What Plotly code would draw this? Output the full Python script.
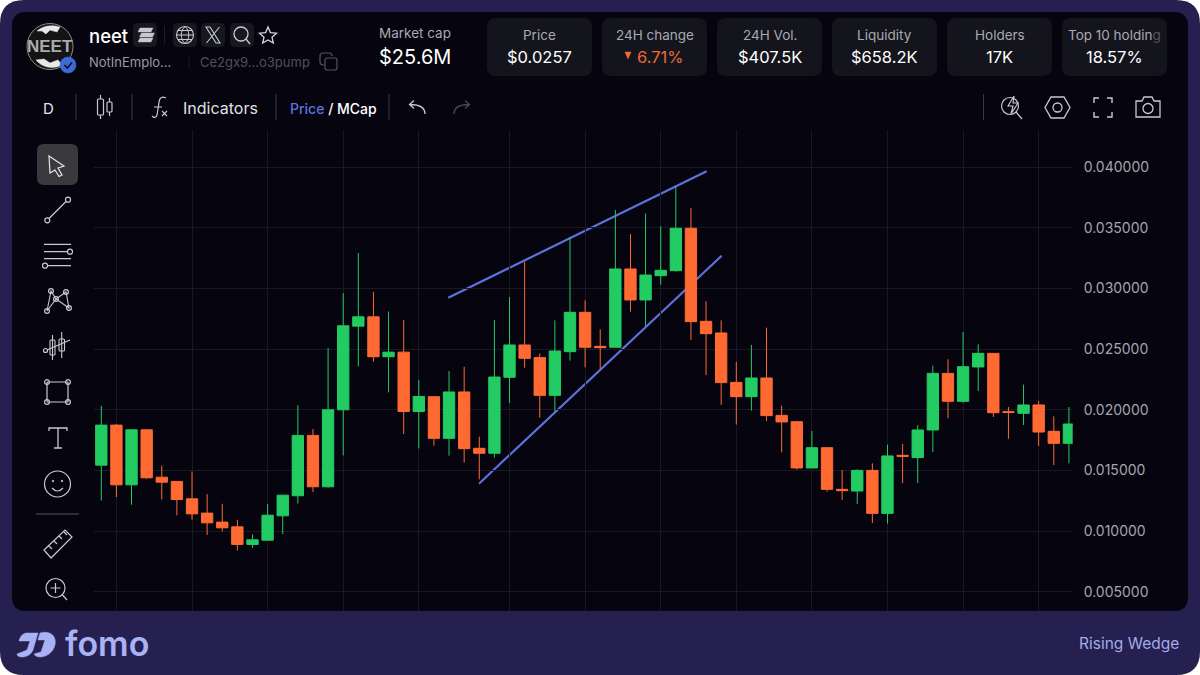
import plotly.graph_objects as go

# OHLC values, one candle per entry
opens = [.01544, .01874, .01382, .01835, .01445, .01410, .01267, .01149, .01075, .01036,
         .00891, .00926, .01127, .01292, .01789, .01366, .02000, .02689, .02766, .02437,
         .02475, .01986, .02108, .01765, .02147, .01683, .01642, .02268, .02534, .02430,
         .02119, .02479, .02803, .02523, .02515, .03160, .02905, .03105, .03146, .03495,
         .02729, .02633, .02226, .02108, .02262, .01954, .01902, .01521, .01688, .01345,
         .01331, .01501, .01147, .01625, .01606, .01834, .02300, .02070, .02353, .02465,
         .01985, .01971, .02040, .01823, .01724]
highs = [.02033, .01882, .01841, .01835, .01541, .01410, .01492, .01305, .01226, .01094,
         .00973, .01223, .01297, .02038, .01841, .02508, .02961, .03291, .02972, .02810,
         .02739, .02247, .02110, .02320, .02355, .01779, .02740, .02929, .03220, .02465,
         .02737, .03421, .02902, .02663, .03646, .03448, .03618, .03511, .03838, .03662,
         .02894, .02737, .02394, .02534, .02677, .02034, .01902, .01825, .01688, .01504,
         .01510, .01559, .01713, .01718, .01875, .02364, .02416, .02641, .02539, .02465,
         .02023, .02207, .02073, .01946, .02023]
lows = [.01253, .01281, .01218, .01429, .01261, .01130, .01094, .00970, .00998, .00841,
        .00863, .00926, .00976, .01228, .01322, .01358, .01624, .02357, .02398, .02143,
        .01800, .01682, .01705, .01622, .01565, .01427, .01606, .02056, .02347, .01935,
        .01985, .02405, .02350, .02333, .02515, .02808, .02690, .03031, .03138, .02575,
        .02287, .02040, .01878, .01993, .01908, .01650, .01507, .01521, .01326, .01257,
        .01224, .01068, .01062, .01397, .01397, .01652, .01930, .02059, .02155, .01941,
        .01762, .01875, .01702, .01545, .01559]
closes = [.01874, .01382, .01835, .01440, .01404, .01261, .01143, .01069, .01028, .00891,
          .00929, .01132, .01297, .01789, .01366, .02000, .02692, .02766, .02437, .02475,
          .01986, .02110, .01765, .02147, .01680, .01642, .02270, .02534, .02424, .02119,
          .02484, .02803, .02515, .02512, .03160, .02905, .03110, .03149, .03495, .02726,
          .02627, .02224, .02108, .02262, .01952, .01900, .01521, .01688, .01345, .01334,
          .01501, .01147, .01620, .01617, .01834, .02300, .02070, .02355, .02465, .01976,
          .01979, .02040, .01817, .01724, .01883]
candle_idx = list(range(len(opens)))

# vertical grid sits on these candles
grid_idx = [1, 6, 11, 16, 21, 27, 32, 37, 42, 47, 52, 57, 62]
price_ticks = [.040, .035, .030, .025, .020, .015, .010, .005]

# the two wedge trendlines
upper_idx = [22.95, 40.04]
upper_val = [.02923, .03965]
lower_idx = [24.98, 41.03]
lower_val = [.01391, .03269]

stat_labels = ["Price", "24H change", "24H Vol.", "Liquidity", "Holders",
               'Top 10 holdin<span style="color:#55555e">g</span>']
stat_values = ["$0.0257", "6.71%", "$407.5K", "$658.2K", "17K", "18.57%"]

W, H = 1200, 675
GREEN = "#22cc62"
ORANGE = "#ff6a33"
BLUE = "#5f71dc"
ICON = "#c9c9cf"
FONT = "Inter"


def fx(x):
    return x / W


def fy(y):
    return 1 - y / H


def pth(d, color=ICON, width=1.3, fill=None, layer="above"):
    # pixel path -> paper path, only M L Q C Z are used
    out, nums = [], []
    for tok in d.split():
        if tok.isalpha():
            out.append(tok)
        else:
            nums.append(float(tok))
            if len(nums) == 2:
                out.append(f"{fx(nums[0]):.5f},{fy(nums[1]):.5f}")
                nums = []
    return dict(type="path", xref="paper", yref="paper", path=" ".join(out), layer=layer,
                line=dict(color=color, width=width), fillcolor=fill)


def rrect(x0, y0, x1, y1, r, fill, color=None, width=0, layer="below"):
    d = (f"M {x0+r} {y0} L {x1-r} {y0} Q {x1} {y0} {x1} {y0+r} L {x1} {y1-r} Q {x1} {y1} {x1-r} {y1} "
         f"L {x0+r} {y1} Q {x0} {y1} {x0} {y1-r} L {x0} {y0+r} Q {x0} {y0} {x0+r} {y0} Z")
    return pth(d, color=color or fill, width=width, fill=fill, layer=layer)


def circ(cx, cy, r, color=ICON, width=1.2, fill=None, layer="above"):
    return dict(type="circle", xref="paper", yref="paper", layer=layer,
                x0=fx(cx - r), x1=fx(cx + r), y0=fy(cy + r), y1=fy(cy - r),
                line=dict(color=color, width=width), fillcolor=fill)


def txt(x, y, s, size, color="#ffffff", anchor="center", weight=400, family=FONT):
    return dict(x=fx(x), y=fy(y), xref="paper", yref="paper", text=s, showarrow=False,
                xanchor=anchor, yanchor="middle", borderpad=0,
                font=dict(size=size, color=color, family=family, weight=weight))


fig = go.Figure()

fig.add_trace(go.Candlestick(
    x=candle_idx, open=opens, high=highs, low=lows, close=closes,
    increasing=dict(line=dict(color=GREEN, width=1), fillcolor=GREEN),
    decreasing=dict(line=dict(color=ORANGE, width=1), fillcolor=ORANGE),
    whiskerwidth=0, showlegend=False,
))

shapes = []
annos = []

# frame and dark panel
shapes.append(rrect(0, 0, 1200, 675, 24, "#252050"))
shapes.append(rrect(12, 12, 1188, 611, 14, "#05040f"))

# wedge lines, under the candles
shapes.append(dict(type="line", xref="x", yref="y", layer="below",
                   x0=upper_idx[0], x1=upper_idx[1], y0=upper_val[0], y1=upper_val[1],
                   line=dict(color=BLUE, width=2.2)))
shapes.append(dict(type="line", xref="x", yref="y", layer="below",
                   x0=lower_idx[0], x1=lower_idx[1], y0=lower_val[0], y1=lower_val[1],
                   line=dict(color=BLUE, width=2.2)))

# header: avatar
shapes.append(circ(50, 46.5, 23, color="#8a8a8e", width=1, fill="#141416"))
shapes.append(pth("M 37 31 C 43 26 51 24.5 60 27 L 57 32 L 50 30 L 46 34 L 42 31 Z", "#e8e8e8", 0.5, "#e8e8e8"))
shapes.append(pth("M 36 60 C 42 67 52 70 62 65 L 58 60 L 50 63 L 44 59 Z", "#e8e8e8", 0.5, "#e8e8e8"))
annos.append(txt(50, 47, "NEET", 17, "#ababab", weight=700, family="Liberation Sans"))
shapes.append(circ(68, 65, 8, color="#3f69d6", width=0.5, fill="#3f69d6"))
shapes.append(pth("M 64.5 65 L 67.3 68 L 72 62.5", "#10102a", 1.6))

annos.append(txt(88, 36, "neet", 18.5, "#ffffff", "left", 500))
annos.append(txt(88, 62, "NotInEmplo...", 13, "#9b9ba5", "left"))
annos.append(txt(199, 62, "Ce2gx9...o3pump", 13, "#50505a", "left"))
shapes.append(pth("M 189 55 L 189 68", "#1a1a24", 1))

# solana, globe, x, search, star
for x0 in (133, 173, 201, 230):
    shapes.append(rrect(x0, 23, x0 + 24, 47, 5, "#17171f"))
shapes.append(pth("M 164.5 26 L 164.5 44", "#1e1e28", 1))
for yy in (30, 35, 40):
    off = 1.5 if yy == 35 else 0
    shapes.append(pth(f"M {138+off} {yy+2} L {140+off} {yy-2} L {153+off} {yy-2} L {151+off} {yy+2} Z",
                      "#c8c8d0", 0.4, "#c8c8d0"))
shapes.append(circ(185, 35, 8.5, width=1.1))
shapes.append(pth("M 176.5 35 L 193.5 35 M 178 30.5 L 192 30.5 M 178 39.5 L 192 39.5 "
                  "M 185 26.5 C 180 31 180 39 185 43.5 C 190 39 190 31 185 26.5", width=1))
shapes.append(pth("M 206 27 L 210 27 L 220 43 L 216 43 Z M 219.5 27 L 206.5 43", width=1.1))
shapes.append(circ(241, 34, 7, width=1.3))
shapes.append(pth("M 246 39 L 250 44", width=1.3))
shapes.append(pth("M 268 27 L 270.4 32.6 L 276.5 33.2 L 272 37.2 L 273.3 43 L 268 40 L 262.7 43 "
                  "L 264 37.2 L 259.5 33.2 L 265.6 32.6 Z", "#d8d8de", 1.3))
shapes.append(rrect(325, 58, 337, 70, 2.5, "rgba(0,0,0,0)", "#55555f", 1.2, "above"))
shapes.append(pth("M 324 65 Q 320 65 320 62 L 320 56 Q 320 53 323 53 L 329 53 Q 332 53 332 56", "#55555f", 1.2))

annos.append(txt(415, 33, "Market cap", 13.5, "#a9a9b2"))
annos.append(txt(415, 57, "$25.6M", 20, "#ffffff", weight=400))

# stat cards
for i, (lab, val) in enumerate(zip(stat_labels, stat_values)):
    x0 = 487 + i * 115
    shapes.append(rrect(x0, 18, x0 + 105, 76, 9, "#14141c"))
    annos.append(txt(x0 + 52.5, 35, lab, 13.5, "#a9a9b2"))
    if i == 1:
        annos.append(txt(x0 + 58, 57, val, 16.5, "#f2683a"))
        shapes.append(pth(f"M {x0+23} 52 L {x0+29} 52 L {x0+26} 59 Z", "#f2683a", 0.5, "#f2683a"))
    else:
        annos.append(txt(x0 + 52.5, 57, val, 16.5, "#ffffff"))

# top toolbar
annos.append(txt(48, 108, "D", 15, "#e6e6ea"))
for xs in (76, 132, 276, 389, 983.5):
    shapes.append(pth(f"M {xs} 94 L {xs} 120", "#3a3a42", 1))
shapes.append(rrect(97.5, 99, 103.5, 115, 1, "rgba(0,0,0,0)", ICON, 1.2, "above"))
shapes.append(rrect(107, 102, 112, 112, 1, "rgba(0,0,0,0)", ICON, 1.2, "above"))
shapes.append(pth("M 100.5 95 L 100.5 99 M 100.5 115 L 100.5 119 M 109.5 98 L 109.5 102 M 109.5 112 L 109.5 116", width=1.2))
shapes.append(pth("M 166 98 C 160 95 159 100 158.5 106 L 157 115 C 156 118 154 118 152 116 M 154 107 L 162 107", width=1.2))
shapes.append(pth("M 162 111 L 167 116 M 167 111 L 162 116", width=1.1))
annos.append(txt(182, 108, "Indicators", 16, "#e0e0e6", "left"))
annos.append(txt(289, 108, f'<span style="color:{BLUE}">Price</span> / MCap', 14, "#ffffff", "left", 500))
shapes.append(pth("M 425 114 C 425 107 420 104.5 410 104.5 M 414 100.5 L 409.5 104.5 L 414 108.5", "#c8c8d0", 1.3))
shapes.append(pth("M 454 114 C 454 107 459 104.5 469 104.5 M 465 100.5 L 469.5 104.5 L 465 108.5", "#4a4a52", 1.3))

# top right icons
shapes.append(circ(1010, 106, 8.5, width=1.2))
shapes.append(pth("M 1016 112 L 1022 119", width=1.2))
shapes.append(pth("M 1014 96 L 1008 106 L 1013 106 L 1011 114 L 1018 103 L 1013 103 Z", "#d0d0d6", 1.1, "#05040f"))
shapes.append(pth("M 1051 97 L 1064 97 L 1070 107.5 L 1064 118 L 1051 118 L 1045 107.5 Z", width=1.3))
shapes.append(circ(1057.5, 107.5, 4.5, width=1.3))
shapes.append(pth("M 1094 103 L 1094 98 L 1099 98 M 1107 98 L 1112 98 L 1112 103 "
                  "M 1112 112 L 1112 117 L 1107 117 M 1099 117 L 1094 117 L 1094 112", width=1.4))
shapes.append(pth("M 1136 101 L 1142 101 L 1144 97 L 1152 97 L 1154 101 L 1160 101 L 1160 117 L 1136 117 Z", width=1.3))
shapes.append(circ(1148, 108.5, 5, width=1.3))

# left toolbar
shapes.append(rrect(37, 144, 78, 185, 7, "#3a3a3e", layer="above"))
shapes.append(pth("M 49 156 L 64 166 L 58 168 L 62 175 L 59 176.5 L 55 170 L 50 173 Z", "#e8e8ea", 1.2))
shapes.append(circ(47.3, 220.3, 2.5))
shapes.append(circ(68, 199.7, 2.5))
shapes.append(pth("M 49 218.5 L 66 201.5", width=1.2))
shapes.append(pth("M 44 244.3 L 71 244.3 M 44 251.7 L 67 251.7 M 44 258.7 L 71 258.7 M 48 265.7 L 71 265.7", width=1.2))
shapes.append(circ(70, 251.7, 2.5))
shapes.append(circ(45, 265.7, 2.5))
for cx, cy in ((47, 311), (51, 291), (66, 292), (69, 308), (56, 299)):
    shapes.append(circ(cx, cy, 2.4))
shapes.append(pth("M 47 311 L 51 291 L 56 299 L 66 292 L 69 308 L 56 299 L 47 311", width=1.1))
shapes.append(rrect(50, 340, 55, 355, 1, "rgba(0,0,0,0)", ICON, 1.1, "above"))
shapes.append(rrect(59, 339, 64.5, 351, 1, "rgba(0,0,0,0)", ICON, 1.1, "above"))
shapes.append(pth("M 52.5 335 L 52.5 360 M 61.7 332 L 61.7 358 M 47 350 L 70 340", width=1.1))
shapes.append(circ(45.5, 350.5, 2))
shapes.append(pth("M 47 382 L 68 382 M 47 402 L 68 402 M 47 382 L 47 402 M 68 382 L 68 402", width=1.2))
for cx, cy in ((47, 382), (68, 382), (47, 402), (68, 402)):
    shapes.append(circ(cx, cy, 2.4))
shapes.append(pth("M 49 431 L 49 428 L 67 428 L 67 431 M 58 428 L 58 448 M 54 448 L 62 448", width=1.3))
shapes.append(circ(57.5, 484, 13, width=1.2))
shapes.append(circ(53, 481, 0.7, width=1, fill=ICON))
shapes.append(circ(62, 481, 0.7, width=1, fill=ICON))
shapes.append(pth("M 52 488 Q 57.5 494 63 488", width=1.2))
shapes.append(pth("M 36 514 L 79 514", "#3a3a42", 1.3))
shapes.append(pth("M 44 550 L 65 530 L 72 537 L 51 558 Z M 49 546 L 52 549 M 54 541 L 57 544 M 59 536 L 62 539 M 64 532 L 67 535", width=1.2))
shapes.append(circ(55.5, 588, 9.5, width=1.2))
shapes.append(pth("M 50.5 588 L 60.5 588 M 55.5 583 L 55.5 593 M 62.5 595 L 67 600", width=1.2))

# footer
shapes.append(pth("M 26 633 L 38 633 L 33 650 C 31 655 26 657 22 657 C 19 657 17 656 17 654 L 27 650 "
                  "L 30 641 L 19 641 C 20 637 22 634 26 633 Z", "#a8b2f5", 0.5, "#a8b2f5"))
shapes.append(pth("M 40 633 C 50 630 57 636 55 645 C 53 653 46 657 40 657 C 37 657 35 656 34 654 "
                  "L 41 652 L 45 640 L 38 640 Z", "#a8b2f5", 0.5, "#a8b2f5"))
annos.append(txt(64, 643, "fomo", 34, "#a8b2f5", "left", 600))
annos.append(txt(1180, 643, "Rising Wedge", 15.5, "#a3abe8", "right", 400))

fig.update_layout(
    width=W, height=H,
    margin=dict(l=0, r=0, t=0, b=0),
    paper_bgcolor="#ffffff",
    plot_bgcolor="rgba(0,0,0,0)",
    boxgap=0.25,
    boxgroupgap=0,
    shapes=shapes,
    annotations=annos,
    showlegend=False,
    font=dict(family=FONT),
)
fig.update_xaxes(
    domain=[94 / W, 1072.7 / W],
    range=[-0.483, 64.25],
    rangeslider_visible=False,
    tickvals=grid_idx,
    showticklabels=False,
    ticks="",
    showgrid=True,
    gridcolor="#191923",
    gridwidth=1,
    zeroline=False,
)
fig.update_yaxes(
    domain=[1 - 611 / H, 1 - 130 / H],
    range=[0.003428, 0.043048],
    side="right",
    tickvals=price_ticks,
    tickformat=".6f",
    ticks="",
    ticklabelstandoff=10,
    tickfont=dict(size=14, color="#a5a5ad", family=FONT),
    showgrid=True,
    gridcolor="#191923",
    gridwidth=1,
    zeroline=False,
)

fig.write_html("out.html", config={"displayModeBar": False},
               post_script="document.body.style.margin='0';document.body.style.overflow='hidden';")
